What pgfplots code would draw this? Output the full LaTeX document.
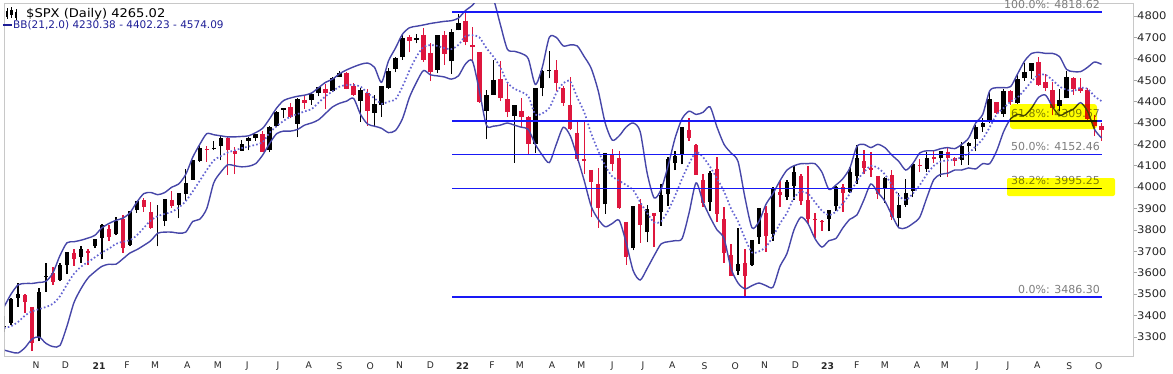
\documentclass[border=0pt]{standalone}
\usepackage{pgfplots}
\pgfplotsset{compat=1.18}
\usepackage{pgfplotstable}
\usepackage{graphicx}
\usepackage{fontspec}
\setmainfont{DejaVu Sans}
\definecolor{spxred}{RGB}{222,22,62}
\definecolor{bbcol}{RGB}{70,70,168}
\definecolor{midcol}{RGB}{100,100,210}
\definecolor{fibcol}{RGB}{25,25,245}
\definecolor{framecol}{RGB}{200,200,200}
\definecolor{fibtext}{RGB}{125,125,125}
\definecolor{hl}{RGB}{255,255,0}
\definecolor{bbtext}{RGB}{30,30,150}
\newcommand\sx[1]{\scalebox{1.1}[1]{#1}}
\tikzset{fiblab/.style={anchor=south east, inner sep=0pt, yshift=3.5pt, text=fibtext, font=\fontsize{11}{12}\selectfont}}

\pgfplotstableread{
w O H L C U M Lo
0 3350 3397 3324 3348 3440 3342 3239
1 3367 3483 3354 3477 3500 3350 3230
2 3500 3550 3441 3484 3543 3370 3225
3 3494 3502 3413 3465 3550 3400 3250
4 3441 3441 3234 3270 3550 3420 3290
5 3296 3529 3280 3510 3555 3430 3300
6 3583 3646 3511 3585 3560 3440 3270
7 3600 3628 3543 3558 3600 3455 3255
8 3566 3645 3560 3638 3680 3490 3260
9 3634 3699 3594 3699 3740 3545 3350
10 3694 3712 3633 3663 3745 3595 3460
11 3675 3726 3647 3709 3752 3628 3525
12 3694 3711 3636 3703 3762 3650 3575
13 3723 3760 3715 3756 3775 3672 3605
14 3764 3826 3663 3825 3810 3695 3630
15 3803 3823 3749 3768 3830 3712 3640
16 3781 3861 3775 3841 3845 3735 3640
17 3851 3870 3694 3714 3855 3745 3665
18 3731 3887 3725 3887 3880 3752 3692
19 3892 3935 3880 3934 3930 3775 3708
20 3939 3950 3884 3907 3970 3810 3728
21 3885 3929 3805 3811 3975 3845 3750
22 3842 3915 3723 3842 3965 3865 3785
23 3844 3944 3818 3943 3975 3875 3790
24 3942 3983 3902 3913 4000 3885 3790
25 3916 3975 3854 3975 4015 3905 3785
26 3969 4083 3936 4020 4060 3935 3790
27 4035 4129 4035 4129 4140 3980 3840
28 4124 4191 4117 4185 4200 4030 3850
29 4179 4194 4118 4180 4250 4080 3900
30 4185 4218 4173 4181 4245 4125 4020
31 4192 4238 4125 4232 4240 4145 4070
32 4228 4237 4057 4174 4235 4162 4105
33 4169 4190 4061 4156 4235 4172 4100
34 4170 4219 4168 4204 4237 4182 4095
35 4216 4234 4172 4230 4240 4190 4098
36 4229 4249 4215 4247 4255 4198 4110
37 4248 4262 4165 4166 4275 4210 4150
38 4173 4286 4164 4281 4320 4255 4205
39 4285 4355 4279 4352 4370 4285 4250
40 4361 4372 4321 4370 4405 4310 4262
41 4373 4393 4321 4327 4417 4330 4262
42 4297 4415 4233 4412 4425 4342 4270
43 4409 4429 4367 4395 4430 4354 4290
44 4407 4440 4386 4437 4440 4365 4300
45 4438 4468 4424 4468 4465 4395 4315
46 4461 4480 4367 4442 4490 4425 4345
47 4450 4513 4443 4509 4505 4448 4375
48 4514 4545 4514 4535 4530 4470 4392
49 4535 4536 4457 4459 4548 4477 4402
50 4474 4487 4427 4433 4562 4478 4415
51 4402 4465 4306 4455 4574 4470 4340
52 4442 4457 4288 4357 4580 4440 4295
53 4348 4429 4279 4391 4560 4415 4285
54 4385 4475 4329 4471 4490 4390 4275
55 4464 4559 4460 4545 4590 4400 4255
56 4553 4608 4537 4605 4650 4410 4265
57 4610 4718 4595 4698 4715 4470 4320
58 4701 4712 4630 4683 4745 4545 4420
59 4689 4718 4672 4698 4752 4610 4490
60 4712 4743 4585 4595 4758 4655 4545
61 4628 4672 4495 4538 4765 4664 4525
62 4548 4713 4532 4712 4770 4660 4520
63 4710 4731 4572 4620 4775 4650 4515
64 4588 4740 4531 4725 4778 4645 4505
65 4733 4808 4733 4766 4790 4665 4520
66 4778 4819 4663 4677 4825 4705 4575
67 4655 4749 4582 4663 4850 4710 4590
68 4632 4632 4395 4398 4890 4700 4450
69 4356 4453 4223 4432 4920 4650 4290
70 4431 4595 4431 4501 4880 4610 4285
71 4505 4590 4402 4419 4760 4560 4290
72 4412 4490 4327 4349 4645 4490 4300
73 4332 4385 4114 4385 4635 4460 4290
74 4354 4416 4279 4329 4625 4445 4280
75 4328 4331 4157 4204 4600 4425 4270
76 4202 4465 4161 4463 4480 4340 4200
77 4462 4546 4424 4543 4560 4345 4150
78 4541 4637 4508 4546 4700 4370 4115
79 4547 4594 4450 4488 4700 4440 4200
80 4462 4471 4381 4392 4660 4486 4280
81 4385 4513 4267 4272 4665 4495 4240
82 4255 4308 4124 4132 4660 4420 4140
83 4130 4307 4063 4123 4610 4350 4030
84 4081 4081 3859 4024 4555 4250 3910
85 4013 4090 3811 3901 4450 4170 3850
86 3920 4158 3875 4158 4300 4100 3815
87 4151 4177 4074 4109 4220 4050 3830
88 4134 4168 3900 3901 4240 4030 3845
89 3838 3838 3637 3675 4281 4010 3740
90 3715 3913 3705 3912 4300 3987 3610
91 3921 3946 3741 3825 4260 3930 3566
92 3792 3919 3742 3899 4066 3879 3620
93 3880 3880 3721 3863 3950 3835 3680
94 3883 4013 3818 3962 3990 3840 3735
95 3966 4140 3913 4130 4100 3890 3745
96 4112 4167 4080 4145 4230 3960 3750
97 4155 4280 4107 4280 4320 4040 3760
98 4269 4325 4218 4228 4355 4110 3880
99 4195 4204 4057 4058 4340 4164 4020
100 4034 4062 3907 3924 4350 4140 3930
101 3930 4076 3887 4067 4375 4095 3860
102 4084 4140 3837 3873 4280 4040 3800
103 3849 3907 3647 3693 4200 3980 3760
104 3682 3736 3584 3586 4160 3900 3620
105 3610 3807 3590 3640 4120 3840 3552
106 3646 3713 3491 3583 3950 3760 3525
107 3638 3753 3632 3752 3810 3695 3540
108 3765 3902 3735 3901 3840 3700 3552
109 3881 3911 3698 3771 3920 3721 3540
110 3780 4002 3750 3993 3970 3770 3533
111 3978 4029 3906 3965 4030 3830 3630
112 3956 4034 3939 4026 4080 3880 3690
113 4006 4101 3942 4072 4100 3950 3800
114 4053 4060 3918 3934 4110 3980 3860
115 3939 4101 3827 3852 4110 3970 3830
116 3853 3877 3764 3845 4110 3930 3760
117 3843 3846 3796 3840 4070 3890 3720
118 3853 3895 3794 3895 3990 3870 3750
119 3911 4004 3887 3999 4010 3885 3760
120 3999 4016 3885 3973 4040 3925 3810
121 3979 4094 3974 4071 4090 3970 3850
122 4050 4195 4015 4136 4190 4030 3870
123 4120 4176 4061 4090 4200 4070 3940
124 4091 4166 4048 4079 4185 4100 4015
125 4053 4054 3944 3970 4200 4090 3975
126 3993 4048 3928 4045 4185 4060 3935
127 4055 4079 3847 3862 4150 4010 3870
128 3855 3973 3808 3917 4120 3960 3810
129 3918 4039 3908 3971 4080 3940 3810
130 3982 4110 3952 4109 4110 3970 3830
131 4102 4133 4069 4105 4160 4010 3860
132 4085 4164 4073 4138 4170 4060 3950
133 4140 4170 4114 4133 4170 4100 4035
134 4134 4170 4049 4169 4180 4120 4060
135 4166 4187 4048 4136 4185 4125 4065
136 4136 4143 4099 4124 4180 4130 4080
137 4126 4213 4103 4192 4200 4140 4080
138 4191 4213 4103 4205 4230 4160 4090
139 4226 4290 4167 4282 4300 4190 4085
140 4283 4322 4259 4299 4340 4225 4110
141 4308 4448 4298 4410 4450 4280 4110
142 4397 4400 4341 4348 4465 4340 4170
143 4344 4458 4328 4450 4465 4370 4260
144 4450 4456 4385 4399 4470 4400 4320
145 4394 4528 4389 4505 4530 4420 4340
146 4508 4578 4498 4536 4590 4455 4335
147 4543 4582 4504 4582 4625 4495 4370
148 4584 4607 4475 4478 4630 4525 4420
149 4492 4527 4448 4464 4625 4525 4430
150 4454 4491 4335 4370 4625 4500 4375
151 4381 4458 4357 4406 4610 4470 4335
152 4415 4541 4415 4516 4550 4455 4350
153 4510 4514 4431 4457 4540 4450 4365
154 4463 4509 4440 4450 4540 4465 4395
155 4452 4464 4315 4320 4560 4460 4355
156 4310 4338 4239 4288 4585 4425 4270
157 4284 4300 4216 4265 4574 4402 4230
}\spx

\begin{document}
\begin{tikzpicture}
\path[use as bounding box] (-5pt,-17pt) rectangle (1168pt,356pt);
\begin{axis}[
  at={(0pt,0pt)}, anchor=south west,
  scale only axis, width=1128pt, height=352pt,
  xmin=0.14, xmax=161.5, ymin=3211, ymax=4856,
  axis line style={draw=framecol, line width=1pt},
  clip mode=individual,
  tick align=outside, major tick length=4pt,
  ytick={3300,3400,3500,3600,3700,3800,3900,4000,4100,4200,4300,4400,4500,4600,4700,4800},
  yticklabels={\sx{3300},\sx{3400},\sx{3500},\sx{3600},\sx{3700},\sx{3800},\sx{3900},\sx{4000},\sx{4100},\sx{4200},\sx{4300},\sx{4400},\sx{4500},\sx{4600},\sx{4700},\sx{4800}},
  ytick pos=right, yticklabel pos=right,
  y tick style={draw=gray!70, line width=0.8pt},
  yticklabel style={font=\fontsize{10.5}{12}\selectfont, text=black!85, inner sep=0pt},
  xtick={4.6,8.8,13.6,17.6,21.6,26.2,30.6,34.8,39.2,43.6,48.0,52.4,56.6,61.0,65.6,69.8,73.8,78.4,82.6,87.0,91.4,95.6,100.2,104.6,108.8,113.2,117.8,122.0,126.0,130.6,134.6,139.2,143.6,147.8,152.4,156.6},
  xticklabels={N,D,\textbf{21},F,M,A,M,J,J,A,S,O,N,D,\textbf{22},F,M,A,M,J,J,A,S,O,N,D,\textbf{23},F,M,A,M,J,J,A,S,O},
  x tick style={draw=none},
  xticklabel style={font=\fontsize{9.2}{11}\selectfont, text=black!85, inner sep=0pt, yshift=-2pt},
]
% 61.8% label first (candles cover it)
\node[fiblab] at (axis cs:156.8,4309.67) {61.8\%: 4309.67};
% candles
\pgfplotstablegetrowsof{\spx}
\pgfmathtruncatemacro{\lastrow}{\pgfplotsretval-1}
\def\prevC{0}
\pgfplotsforeachungrouped \i in {0,...,\lastrow}{%
  \pgfplotstablegetelem{\i}{w}\of{\spx}\let\cw\pgfplotsretval
  \pgfplotstablegetelem{\i}{O}\of{\spx}\let\cO\pgfplotsretval
  \pgfplotstablegetelem{\i}{H}\of{\spx}\let\cH\pgfplotsretval
  \pgfplotstablegetelem{\i}{L}\of{\spx}\let\cL\pgfplotsretval
  \pgfplotstablegetelem{\i}{C}\of{\spx}\let\cC\pgfplotsretval
  \ifdim\cC pt<\prevC pt\def\ccol{spxred}\else\def\ccol{black}\fi
  \edef\tmp{%
    \noexpand\addplot[\ccol, line width=1.3pt, forget plot] coordinates {(\cw,\cL) (\cw,\cH)};%
    \noexpand\addplot[\ccol, line width=4.4pt, forget plot] coordinates {(\cw,\cO) (\cw,\cC)};%
  }%
  \tmp
  \let\prevC\cC
}
% Bollinger bands
\addplot[bbcol, line width=1.4pt, smooth, tension=0.45, forget plot] table[x=w, y=U]{\spx};
\addplot[bbcol, line width=1.4pt, smooth, tension=0.45, forget plot] table[x=w, y=Lo]{\spx};
\addplot[midcol, line width=1.7pt, dash pattern=on 1.6pt off 2.2pt, smooth, tension=0.45, forget plot] table[x=w, y=M]{\spx};
% Fibonacci levels
\addplot[fibcol, line width=1.3pt, forget plot] coordinates {(64.1,4818.62) (157.1,4818.62)};
\addplot[fibcol, line width=1.3pt, forget plot] coordinates {(64.1,4309.67) (157.1,4309.67)};
\addplot[fibcol, line width=1.3pt, forget plot] coordinates {(64.1,4152.46) (157.1,4152.46)};
\addplot[fibcol, line width=1.3pt, forget plot] coordinates {(64.1,3995.25) (157.1,3995.25)};
\addplot[fibcol, line width=1.3pt, forget plot] coordinates {(64.1,3486.30) (157.1,3486.30)};
\node[fiblab] at (axis cs:156.8,4818.62) {100.0\%: 4818.62};
\node[fiblab] at (axis cs:156.8,4152.46) {50.0\%: 4152.46};
\node[fiblab] at (axis cs:156.8,3995.25) {38.2\%: 3995.25};
\node[fiblab] at (axis cs:156.8,3486.30) {0.0\%: 3486.30};
\end{axis}
% highlighter marks
\fill[hl, blend mode=multiply, rounded corners=3pt] (1005pt,227pt) rectangle (1092pt,252pt);
\fill[hl, blend mode=multiply, rounded corners=2pt] (1002pt,160pt) rectangle (1110pt,178pt);
% title
\fill[black] (1.0pt,339pt) rectangle (3.2pt,345pt);
\draw[black, line width=0.7pt] (2.1pt,337pt) -- (2.1pt,348pt);
\fill[black] (5.5pt,341pt) rectangle (7.7pt,346pt);
\draw[black, line width=0.7pt] (6.6pt,338pt) -- (6.6pt,349pt);
\fill[black] (10pt,338pt) rectangle (12.2pt,344pt);
\draw[black, line width=0.7pt] (11.1pt,336pt) -- (11.1pt,347pt);
\node[anchor=west, inner sep=0pt, font=\fontsize{12}{14}\selectfont] at (21pt,342pt) {\scalebox{1.09}[1]{\$SPX (Daily) 4265.02}};
\draw[bbtext, line width=1.6pt] (-2pt,331pt) -- (7pt,331pt);
\node[anchor=west, inner sep=0pt, text=bbtext, font=\fontsize{10.5}{12}\selectfont] at (8pt,331pt) {BB(21,2.0) 4230.38 - 4402.23 - 4574.09};
\end{tikzpicture}
\end{document}
